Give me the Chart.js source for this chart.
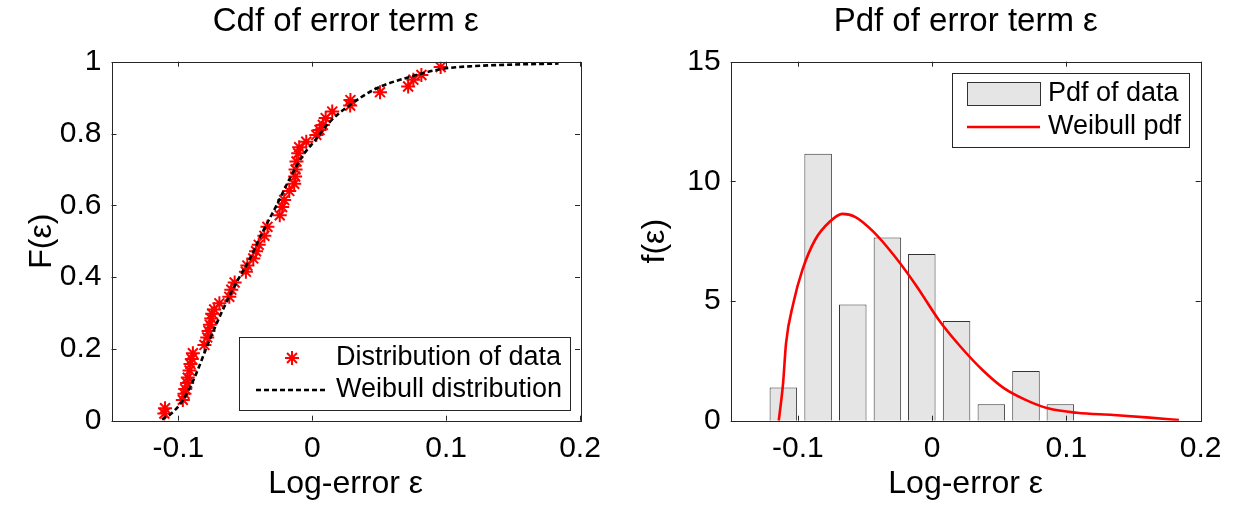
<!DOCTYPE html>
<html>
<head>
<meta charset="utf-8">
<script src="https://cdn.jsdelivr.net/npm/chart.js@4.4.1/dist/chart.umd.min.js"></script>
<style>
    html, body { margin: 0; padding: 0; background: #fff; }
    .panel { position: absolute; top: 0; width: 617px; height: 505px; }
    #left { left: 0; }
    #right { left: 617px; }
</style>
</head>
<body>
<div class="panel" id="left"><canvas id="cdf"></canvas></div>
<div class="panel" id="right"><canvas id="pdf"></canvas></div>
<script>
// empirical cdf (red stars)
const dataErr = [-0.1105, -0.1100, -0.0967, -0.0955, -0.0949, -0.0935, -0.0930, -0.0917, -0.0910, -0.0900,
    -0.0892, -0.0806, -0.0785, -0.0775, -0.0765, -0.0755, -0.0748, -0.0733, -0.0694, -0.0620,
    -0.0605, -0.0580, -0.0496, -0.0485, -0.0441, -0.0420, -0.0400, -0.0358, -0.0335, -0.0243,
    -0.0225, -0.0210, -0.0172, -0.0135, -0.0128, -0.0125, -0.0118, -0.0105, -0.0098, -0.0045,
    0.0030, 0.0054, 0.0079, 0.0100, 0.0149, 0.0283, 0.0285, 0.0506, 0.0716, 0.0755, 0.0815, 0.0959];
const dataCdf = [0.020, 0.035, 0.058, 0.075, 0.088, 0.105, 0.120, 0.140, 0.158, 0.172,
    0.188, 0.211, 0.232, 0.250, 0.267, 0.285, 0.298, 0.310, 0.327, 0.345,
    0.365, 0.385, 0.415, 0.432, 0.452, 0.472, 0.490, 0.515, 0.540, 0.572,
    0.595, 0.615, 0.640, 0.660, 0.680, 0.700, 0.722, 0.745, 0.762, 0.777,
    0.796, 0.810, 0.824, 0.843, 0.861, 0.878, 0.893, 0.915, 0.931, 0.950, 0.963, 0.985];

// fitted weibull cdf (dashed)
const weibullCdfX = [-0.1123, -0.1060, -0.0974, -0.0888, -0.0763, -0.0652, -0.0565, -0.0466, -0.0379, -0.0268,
    -0.0169, -0.0070, 0.0030, 0.0129, 0.0277, 0.0476, 0.0723, 0.0971, 0.1220, 0.1500, 0.1840];
const weibullCdfY = [0.004, 0.018, 0.053, 0.113, 0.229, 0.322, 0.386, 0.451, 0.520, 0.599,
    0.674, 0.739, 0.785, 0.832, 0.878, 0.925, 0.957, 0.980, 0.988, 0.992, 0.995];

// histogram (density)
const binCenters = [-0.1108, -0.0849, -0.0591, -0.0333, -0.0077, 0.0182, 0.0441, 0.0699, 0.0955];
const binDensity = [1.39, 11.15, 4.86, 7.65, 6.96, 4.17, 0.69, 2.08, 0.69];

// fitted weibull pdf (red line)
const weibullPdfX = [-0.1142, -0.1110, -0.1088, -0.1034, -0.0966, -0.0872, -0.0763, -0.0668, -0.0574, -0.0438,
    -0.0276, -0.0113, 0.0050, 0.0212, 0.0375, 0.0537, 0.0700, 0.0862, 0.1079, 0.1350, 0.1620, 0.1838];
const weibullPdfY = [0.00, 1.56, 3.23, 4.90, 6.30, 7.55, 8.31, 8.64, 8.52, 7.90,
    6.85, 5.60, 4.21, 3.09, 2.12, 1.35, 0.86, 0.52, 0.33, 0.24, 0.13, 0.03];

const xTicks = [-0.1, 0, 0.1, 0.2];
const cdfTicks = [0, 0.2, 0.4, 0.6, 0.8, 1];
const pdfTicks = [0, 5, 10, 15];

const FONT = "'Liberation Sans', Arial, Helvetica, sans-serif";
const INK = '#000';
const TICK_SIZE = 30;
const LABEL_SIZE = 32;
const TITLE_SIZE = 33;

const zip = (xs, ys) => xs.map((x, i) => ({x: x, y: ys[i]}));

/**
 * box round the axes plus inward ticks on all four sides
 */
const framePlugin = {
    id: 'frame',
    afterDraw(chart, args, opts) {
        const {ctx, chartArea: a, scales} = chart;
        const len = opts.tick || 5;
        ctx.save();
        ctx.strokeStyle = '#262626';
        ctx.lineWidth = 1;
        ctx.beginPath();
        scales.x.ticks.forEach(t => {
            const px = Math.round(scales.x.getPixelForValue(t.value)) + 0.5;
            ctx.moveTo(px, a.bottom); ctx.lineTo(px, a.bottom - len);
            ctx.moveTo(px, a.top); ctx.lineTo(px, a.top + len);
        });
        scales.y.ticks.forEach(t => {
            const py = Math.round(scales.y.getPixelForValue(t.value)) + 0.5;
            ctx.moveTo(a.left, py); ctx.lineTo(a.left + len, py);
            ctx.moveTo(a.right, py); ctx.lineTo(a.right - len, py);
        });
        ctx.stroke();
        ctx.strokeRect(Math.round(a.left) + 0.5, Math.round(a.top) + 0.5,
            Math.round(a.right - a.left), Math.round(a.bottom - a.top));
        ctx.restore();
    }
};

/**
 * matlab style legend box, drawn from the datasets' own styles
 */
const boxLegendPlugin = {
    id: 'boxLegend',
    afterDraw(chart, args, opts) {
        if (!opts.box) return;
        const ctx = chart.ctx;
        const b = opts.box;
        ctx.save();
        ctx.fillStyle = '#fff';
        ctx.fillRect(b.x, b.y, b.w, b.h);
        ctx.strokeStyle = '#262626';
        ctx.lineWidth = 1;
        ctx.strokeRect(b.x + 0.5, b.y + 0.5, b.w, b.h);
        chart.data.datasets.forEach((ds, i) => {
            const cy = opts.rows[i];
            const x0 = opts.symbolX, x1 = opts.symbolX + opts.symbolW;
            if (ds.type === 'bar') {
                ctx.fillStyle = ds.backgroundColor;
                ctx.fillRect(x0, cy - 11.5, x1 - x0, 23);
                ctx.strokeStyle = ds.borderColor;
                ctx.strokeRect(x0 + 0.5, cy - 11.5, x1 - x0, 23);
            } else if (ds.showLine === false) {
                ctx.strokeStyle = ds.pointBorderColor;
                ctx.lineWidth = ds.pointBorderWidth;
                Chart.helpers.drawPoint(ctx, {pointStyle: ds.pointStyle, radius: ds.pointRadius,
                    borderWidth: ds.pointBorderWidth, rotation: 0}, (x0 + x1) / 2, cy);
            } else {
                ctx.strokeStyle = ds.borderColor;
                ctx.lineWidth = ds.borderWidth;
                ctx.setLineDash(ds.borderDash || []);
                ctx.beginPath();
                ctx.moveTo(x0, cy); ctx.lineTo(x1, cy);
                ctx.stroke();
                ctx.setLineDash([]);
            }
            ctx.fillStyle = INK;
            ctx.font = opts.fontSize + 'px ' + FONT;
            ctx.textBaseline = 'middle';
            ctx.textAlign = 'left';
            ctx.fillText(ds.label, opts.textX, cy);
        });
        ctx.restore();
    }
};

function fixedTicks(values) {
    return scale => { scale.ticks = values.map(v => ({value: v})); };
}

function makeScales(yMin, yMax, yTicks, yWidth, yTitle, yTitlePad) {
    return {
        x: {
            type: 'linear', min: -0.15, max: 0.2, offset: false,
            afterBuildTicks: fixedTicks(xTicks),
            afterFit: s => { s.height = 84.3; },
            grid: {display: false, drawTicks: false, offset: false},
            border: {display: false},
            ticks: {color: INK, font: {family: FONT, size: TICK_SIZE}, padding: 10, autoSkip: false, maxRotation: 0,
                callback: v => String(v)},
            title: {display: true, text: 'Log-error ε', color: INK, font: {family: FONT, size: LABEL_SIZE},
                padding: {top: 0, bottom: 2}}
        },
        y: {
            type: 'linear', min: yMin, max: yMax,
            afterBuildTicks: fixedTicks(yTicks),
            afterFit: s => { s.width = yWidth; },
            grid: {display: false, drawTicks: false},
            border: {display: false},
            ticks: {color: INK, font: {family: FONT, size: TICK_SIZE}, padding: 10, autoSkip: false,
                callback: v => String(v)},
            title: {display: true, text: yTitle, color: INK, font: {family: FONT, size: LABEL_SIZE},
                padding: {top: yTitlePad, bottom: 0}}
        }
    };
}

function makeTitle(text) {
    return {display: true, text: text, color: INK, fullSize: false,
        font: {family: FONT, size: TITLE_SIZE, weight: 'normal'}, padding: {top: 2.2, bottom: 19.9}};
}

Chart.defaults.font.family = FONT;

new Chart(document.getElementById('cdf'), {
    type: 'line',
    data: {
        datasets: [{
            label: 'Distribution of data',
            data: zip(dataErr, dataCdf),
            showLine: false,
            pointStyle: 'star',
            pointRadius: 7,
            pointBorderWidth: 2,
            pointBorderColor: '#ff0000',
            pointBackgroundColor: '#ff0000',
            order: 1
        }, {
            label: 'Weibull distribution',
            data: zip(weibullCdfX, weibullCdfY),
            borderColor: '#000',
            borderWidth: 2.6,
            borderDash: [5, 3],
            pointRadius: 0,
            cubicInterpolationMode: 'monotone',
            order: 0
        }]
    },
    options: {
        responsive: true,
        maintainAspectRatio: false,
        animation: false,
        layout: {padding: {left: 0, right: 37, top: 0, bottom: 0}},
        scales: makeScales(0, 1, cdfTicks, 111.5, 'F(ε)', 23),
        plugins: {
            legend: {display: false},
            tooltip: {enabled: false},
            title: makeTitle('Cdf of error term ε'),
            frame: {tick: 5},
            boxLegend: {
                box: {x: 239, y: 337, w: 331, h: 73},
                rows: [358, 390],
                symbolX: 256, symbolW: 72,
                textX: 336, fontSize: 27
            }
        }
    },
    plugins: [framePlugin, boxLegendPlugin]
});

new Chart(document.getElementById('pdf'), {
    data: {
        datasets: [{
            type: 'bar',
            label: 'Pdf of data',
            data: zip(binCenters, binDensity),
            backgroundColor: '#e5e5e5',
            borderColor: '#333333',
            borderWidth: 1,
            barPercentage: 1,
            categoryPercentage: 0.8,
            order: 1
        }, {
            type: 'line',
            label: 'Weibull pdf',
            data: zip(weibullPdfX, weibullPdfY),
            borderColor: '#ff0000',
            borderWidth: 2.6,
            pointRadius: 0,
            cubicInterpolationMode: 'monotone',
            order: 0
        }]
    },
    options: {
        responsive: true,
        maintainAspectRatio: false,
        animation: false,
        layout: {padding: {left: 0, right: 33.3, top: 0, bottom: 0}},
        scales: makeScales(0, 15, pdfTicks, 113.7, 'f(ε)', 19),
        plugins: {
            legend: {display: false},
            tooltip: {enabled: false},
            title: makeTitle('Pdf of error term ε'),
            frame: {tick: 5},
            boxLegend: {
                box: {x: 335, y: 73, w: 237, h: 74},
                rows: [94, 127],
                symbolX: 350, symbolW: 73,
                textX: 431, fontSize: 27
            }
        }
    },
    plugins: [framePlugin, boxLegendPlugin]
});
</script>
</body>
</html>
